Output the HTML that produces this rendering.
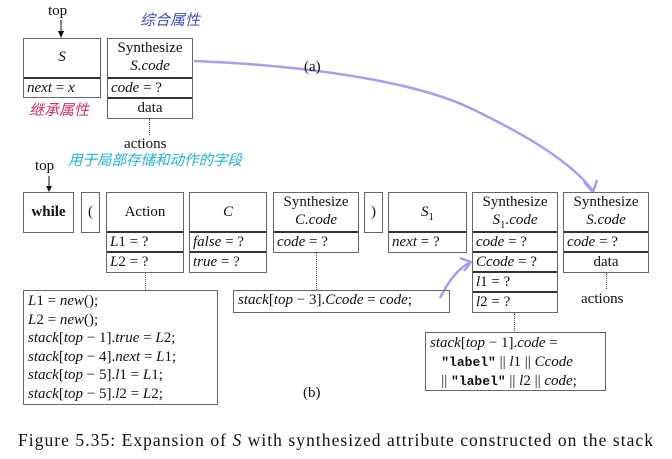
<!DOCTYPE html>
<html><head><meta charset="utf-8"><style>
body{margin:0;width:672px;height:459px;background:#fff;position:relative;overflow:hidden;font-family:"Liberation Serif","Noto Serif CJK SC",serif;color:#111}
.b{position:absolute;border:1.3px solid #666;box-sizing:border-box;background:#fff}
.r{position:absolute;left:0;right:0;box-sizing:border-box;font-size:15px;line-height:19px;padding-left:3px;white-space:nowrap}
.r.t{border-top:2px solid #333}
.c{text-align:center;padding-left:0}
.h{position:absolute;left:0;right:0;top:0;text-align:center;font-size:15px;line-height:18px}
i{font-style:italic}
.lab{position:absolute;font-size:15px;white-space:nowrap}
.hw{position:absolute;font-family:"WenQuanYi Zen Hei","Noto Sans CJK SC",sans-serif;font-size:15px;white-space:nowrap;font-style:italic}
.dot{position:absolute;border-left:1.3px dotted #555;width:0}
.code{position:absolute;border:1.3px solid #666;box-sizing:border-box;font-size:15px;line-height:18.5px;padding:1px 4px;white-space:nowrap}
tt{font-family:"Liberation Mono",monospace;font-weight:bold;font-size:13px}
</style></head><body>
<svg width="672" height="459" style="position:absolute;left:0;top:0">
<line x1="61" y1="20" x2="61" y2="35" stroke="#111" stroke-width="1"/><polygon points="58,31 64,31 61,38" fill="#111"/>
<line x1="49" y1="176" x2="49" y2="189" stroke="#111" stroke-width="1"/><polygon points="46,186 52,186 49,192" fill="#111"/>
<path d="M194,61 C320,66 420,84 470,108 S570,160 593,191" fill="none" stroke="#a89cf5" stroke-width="2.5"/>
<path d="M584,182 L593,192 L597,180" fill="none" stroke="#a89cf5" stroke-width="2.5"/>
<path d="M440,298 C448,282 458,268 471,262" fill="none" stroke="#a89cf5" stroke-width="2.5"/>
<path d="M460,258 L471,262 L464,271" fill="none" stroke="#a89cf5" stroke-width="2.5"/>
</svg>

<div class="lab" style="left:48px;top:3px">top</div>
<div class="hw" style="left:140px;top:9px;color:#3f4fc0">综合属性</div>
<div class="hw" style="left:29px;top:99px;color:#d03068">继承属性</div>
<div class="hw" style="left:68px;top:149px;color:#22b0d8;font-size:14.5px">用于局部存储和动作的字段</div>

<div class="b" style="left:23px;top:38px;width:78px;height:60px">
<div class="h" style="top:9px"><i>S</i></div>
<div class="r t" style="top:38px"><i>next</i> = <i>x</i></div></div>
<div class="b" style="left:107px;top:38px;width:86px;height:81px">
<div class="h">Synthesize<br><i>S.code</i></div>
<div class="r t" style="top:38px"><i>code</i> = ?</div>
<div class="r t c" style="top:58px">data</div></div>
<div class="dot" style="left:149px;top:119px;height:16px"></div>
<div class="lab" style="left:124px;top:136px">actions</div>
<div class="lab" style="left:304px;top:59px">(a)</div>

<div class="lab" style="left:35px;top:158px">top</div>
<div class="b" style="left:23px;top:192px;width:51px;height:41px"><div class="h" style="top:10px"><b>while</b></div></div>
<div class="b" style="left:81px;top:192px;width:19px;height:41px"><div class="h" style="top:10px">(</div></div>
<div class="b" style="left:106px;top:192px;width:78px;height:81px">
<div class="h" style="top:10px">Action</div>
<div class="r t" style="top:38px"><i>L</i>1 = ?</div>
<div class="r t" style="top:58px"><i>L</i>2 = ?</div></div>
<div class="b" style="left:189px;top:192px;width:78px;height:81px">
<div class="h" style="top:10px"><i>C</i></div>
<div class="r t" style="top:38px"><i>false</i> = ?</div>
<div class="r t" style="top:58px"><i>true</i> = ?</div></div>
<div class="b" style="left:273px;top:192px;width:86px;height:61px">
<div class="h">Synthesize<br><i>C.code</i></div>
<div class="r t" style="top:38px"><i>code</i> = ?</div></div>
<div class="b" style="left:364px;top:192px;width:19px;height:41px"><div class="h" style="top:10px">)</div></div>
<div class="b" style="left:388px;top:192px;width:79px;height:61px">
<div class="h" style="top:10px"><i>S</i><sub style="font-size:11px">1</sub></div>
<div class="r t" style="top:38px"><i>next</i> = ?</div></div>
<div class="b" style="left:472px;top:192px;width:86px;height:121px">
<div class="h">Synthesize<br><i>S</i><sub style="font-size:11px">1</sub><i>.code</i></div>
<div class="r t" style="top:38px"><i>code</i> = ?</div>
<div class="r t" style="top:58px"><i>Ccode</i> = ?</div>
<div class="r t" style="top:78px"><i>l</i>1 = ?</div>
<div class="r t" style="top:98px"><i>l</i>2 = ?</div></div>
<div class="b" style="left:563px;top:192px;width:86px;height:81px">
<div class="h">Synthesize<br><i>S.code</i></div>
<div class="r t" style="top:38px"><i>code</i> = ?</div>
<div class="r t c" style="top:58px">data</div></div>
<div class="dot" style="left:606px;top:273px;height:16px"></div>
<div class="lab" style="left:581px;top:291px">actions</div>

<div class="dot" style="left:145px;top:273px;height:17px"></div>
<div class="code" style="left:23px;top:290px;width:195px;height:115px;line-height:18.6px">
<i>L</i>1 = <i>new</i>();<br><i>L</i>2 = <i>new</i>();<br><i>stack</i>[<i>top</i> − 1].<i>true</i> = <i>L</i>2;<br><i>stack</i>[<i>top</i> − 4].<i>next</i> = <i>L</i>1;<br><i>stack</i>[<i>top</i> − 5].<i>l</i>1 = <i>L</i>1;<br><i>stack</i>[<i>top</i> − 5].<i>l</i>2 = <i>L</i>2;</div>
<div class="dot" style="left:316px;top:253px;height:37px"></div>
<div class="code" style="left:233px;top:290px;width:217px;height:23px;line-height:19px;padding-top:0"><i>stack</i>[<i>top</i> − 3].<i>Ccode</i> = <i>code</i>;</div>
<div class="dot" style="left:514px;top:313px;height:18px"></div>
<div class="code" style="left:425px;top:332px;width:181px;height:59px;line-height:18.5px">
<i>stack</i>[<i>top</i> − 1].<i>code</i> =<br>&nbsp;&nbsp;&nbsp;<tt>"label"</tt> || <i>l</i>1 || <i>Ccode</i><br>&nbsp;&nbsp;&nbsp;|| <tt>"label"</tt> || <i>l</i>2 || <i>code</i>;</div>
<div class="lab" style="left:303px;top:385px">(b)</div>

<div class="lab" style="left:18px;top:430px;font-size:17.5px;letter-spacing:1.05px">Figure 5.35: Expansion of <i>S</i> with synthesized attribute constructed on the stack</div>
</body></html>
